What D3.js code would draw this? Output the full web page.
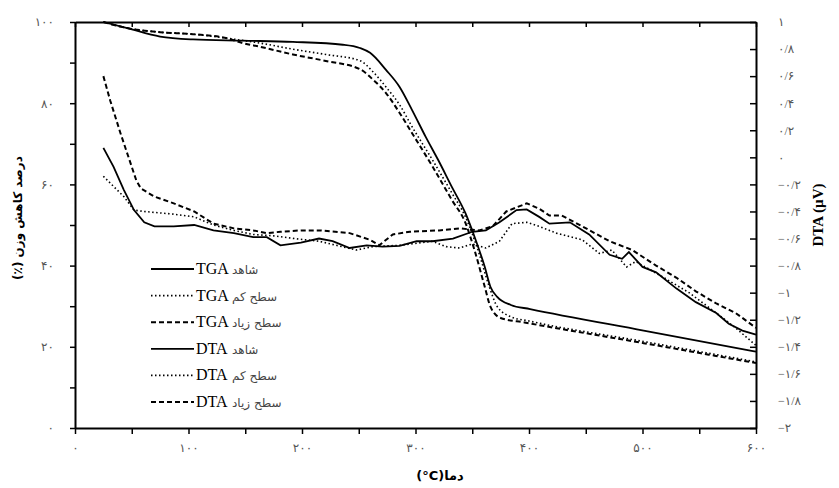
<!DOCTYPE html>
<html>
<head>
<meta charset="utf-8">
<script src="https://cdn.jsdelivr.net/npm/d3@7"></script>
<style>
  body { margin: 0; background: #fff; }
  #graf { width: 839px; height: 488px; }
  text { font-family: 'Liberation Serif', 'Times New Roman', 'DejaVu Sans', serif; }
</style>
</head>
<body>
<div id="graf"></div>
<script>
// temperatures (°C) and TGA weight (%)
const tgaControlT = [25, 46, 75, 104, 148, 192, 236, 251, 260, 274, 286, 297, 309, 320, 332, 344, 352, 361, 366, 372, 384, 401, 501, 600]
const tgaControl = [100, 98.5, 96.4, 95.7, 95.4, 95.1, 94.4, 93.6, 92.4, 88.2, 84, 78.3, 71.7, 66, 59.4, 52.9, 47.1, 39.7, 34.8, 32.3, 30.3, 29.3, 24.0, 18.8]

const tgaLowT = [25, 46, 75, 104, 134, 163, 192, 221, 251, 263, 274, 286, 297, 315, 332, 344, 356, 365, 372, 384, 401, 501, 600]
const tgaLow = [100, 98.5, 97.5, 97, 96, 94.8, 93.3, 92.0, 90.5, 87.6, 84, 79.6, 74.2, 66, 57.9, 52, 43, 34.8, 29.9, 27.4, 26.3, 21.3, 16.3]

const tgaHighT = [25, 46, 75, 104, 134, 148, 163, 192, 221, 251, 263, 274, 286, 297, 315, 332, 344, 352, 361, 366, 375, 396, 501, 600]
const tgaHigh = [100, 98.5, 97.5, 97, 96, 94.8, 93.9, 92.0, 90.4, 88.4, 85.7, 82.5, 77.6, 72.6, 64.4, 56.2, 50.5, 43.8, 34.8, 29.9, 27.1, 26.0, 20.9, 16]

// DTA (µV)
const dtaControlT = [25, 34, 43, 52, 61, 70, 87, 105, 122, 140, 157, 169, 181, 199, 215, 227, 242, 257, 271, 286, 301, 315, 333, 350, 362, 374, 389, 398, 409, 418, 436, 453, 471, 482, 488, 500, 512, 530, 547, 565, 576, 588, 600]
const dtaControl = [0.07, -0.07, -0.24, -0.39, -0.48, -0.51, -0.51, -0.50, -0.54, -0.56, -0.59, -0.59, -0.65, -0.63, -0.60, -0.62, -0.67, -0.65, -0.66, -0.655, -0.62, -0.62, -0.60, -0.55, -0.54, -0.48, -0.39, -0.385, -0.44, -0.49, -0.48, -0.57, -0.72, -0.75, -0.70, -0.81, -0.85, -0.97, -1.07, -1.15, -1.23, -1.28, -1.31]

const dtaLowT = [25, 43, 52, 61, 87, 105, 122, 140, 157, 175, 193, 215, 248, 262, 286, 315, 327, 339, 350, 362, 374, 385, 398, 409, 424, 447, 462, 473, 486, 494, 517, 541, 565, 582, 600]
const dtaLow = [-0.14, -0.29, -0.39, -0.40, -0.42, -0.44, -0.50, -0.54, -0.57, -0.58, -0.60, -0.62, -0.685, -0.66, -0.65, -0.62, -0.66, -0.67, -0.64, -0.67, -0.62, -0.49, -0.48, -0.51, -0.56, -0.61, -0.71, -0.685, -0.81, -0.77, -0.88, -1.0, -1.15, -1.26, -1.39]

const dtaHighT = [25, 31, 40, 48, 54, 58, 70, 87, 105, 122, 140, 157, 169, 181, 199, 216, 242, 260, 268, 280, 295, 321, 339, 356, 368, 380, 398, 409, 418, 429, 447, 471, 491, 512, 530, 547, 565, 582, 600]
const dtaHigh = [0.60, 0.42, 0.18, -0.02, -0.17, -0.23, -0.29, -0.34, -0.40, -0.49, -0.525, -0.54, -0.56, -0.55, -0.54, -0.54, -0.56, -0.61, -0.65, -0.57, -0.55, -0.54, -0.525, -0.54, -0.51, -0.40, -0.34, -0.38, -0.43, -0.43, -0.51, -0.62, -0.685, -0.80, -0.89, -0.99, -1.08, -1.15, -1.26]

const levelNames = ['شاهد', 'سطح کم', 'سطح زیاد']
const xTicks = [0, 100, 200, 300, 400, 500, 600]
const leftTicks = [0, 20, 40, 60, 80, 100]
const rightTicks = [1, 0.8, 0.6, 0.4, 0.2, 0, -0.2, -0.4, -0.6, -0.8, -1, -1.2, -1.4, -1.6, -1.8, -2]

const W = 839, H = 488
const svg = d3.select('#graf').append('svg').attr('width', W).attr('height', H)

const x = d3.scaleLinear().domain([0, 600]).range([75, 756])
const yL = d3.scaleLinear().domain([0, 100]).range([428, 22])
const yR = d3.scaleLinear().domain([-2, 1]).range([428, 22])

const fa = s => String(s).replace(/\d/g, d => '۰۱۲۳۴۵۶۷۸۹'[d])
const faDec = v => {
    const r = Math.round(v * 10) / 10
    return fa(String(r).replace('.', '/').replace('-', '−'))
}

// axes
const styleAxis = g => {
    g.select('.domain').attr('stroke', '#000').attr('stroke-width', 2)
    g.selectAll('.tick line').attr('stroke', '#000').attr('stroke-width', 1.5)
    g.selectAll('.tick text').attr('fill', '#555').attr('font-size', 12)
        .style('font-family', "'Liberation Serif', 'DejaVu Sans', serif")
}

svg.append('g').attr('transform', 'translate(0,428)')
    .call(d3.axisBottom(x).tickValues(d3.range(0, 601, 50)).tickSize(6).tickSizeOuter(0).tickPadding(9)
        .tickFormat(d => xTicks.includes(d) ? fa(d) : ''))
    .call(styleAxis)

svg.append('g').attr('transform', 'translate(0,22)')
    .call(d3.axisTop(x).tickValues(d3.range(0, 601, 50)).tickSize(-5).tickSizeOuter(0).tickFormat(''))
    .call(styleAxis)

svg.append('g').attr('transform', 'translate(75,0)')
    .call(d3.axisLeft(yL).tickValues(d3.range(0, 101, 10)).tickSize(5).tickSizeOuter(0).tickPadding(16)
        .tickFormat(d => leftTicks.includes(d) ? fa(d) : ''))
    .call(styleAxis)

svg.append('g').attr('transform', 'translate(756,0)')
    .call(d3.axisRight(yR).tickValues(rightTicks).tickSize(-6).tickSizeOuter(0).tickPadding(22)
        .tickFormat(faDec))
    .call(styleAxis)

// curves
const lineL = d3.line().x(d => x(d[0])).y(d => yL(d[1])).curve(d3.curveMonotoneX)
const lineR = d3.line().x(d => x(d[0])).y(d => yR(d[1])).curve(d3.curveLinear)
const zip = (a, b) => a.map((t, i) => [t, b[i]])

const dashes = [null, '1.5,2.5', '5,3']
const widths = [1.8, 1.6, 2]

const tgaSeries = [zip(tgaControlT, tgaControl), zip(tgaLowT, tgaLow), zip(tgaHighT, tgaHigh)]
const dtaSeries = [zip(dtaControlT, dtaControl), zip(dtaLowT, dtaLow), zip(dtaHighT, dtaHigh)]

dtaSeries.forEach((s, i) => {
    svg.append('path').attr('d', lineR(s)).attr('fill', 'none').attr('stroke', '#000')
        .attr('stroke-width', widths[i]).attr('stroke-dasharray', dashes[i])
})
tgaSeries.forEach((s, i) => {
    svg.append('path').attr('d', lineL(s)).attr('fill', 'none').attr('stroke', '#000')
        .attr('stroke-width', widths[i]).attr('stroke-dasharray', dashes[i])
})

// legend
const legend = ['TGA', 'DTA'].flatMap(k => levelNames.map((n, i) => ({ k, n, i })))
const lg = svg.append('g')
legend.forEach((d, j) => {
    const ly = 269 + j * 26.6
    lg.append('line').attr('x1', 151).attr('x2', 194).attr('y1', ly).attr('y2', ly)
        .attr('stroke', '#000').attr('stroke-width', widths[d.i]).attr('stroke-dasharray', dashes[d.i])
    lg.append('text').attr('x', 196).attr('y', ly + 5).attr('font-size', 16).text(d.k)
    lg.append('text').attr('x', 232).attr('y', ly + 5).attr('font-size', 12).attr('fill', '#444')
        .style('font-family', "'DejaVu Sans', sans-serif").text(d.n)
})

// axis titles
svg.append('text').attr('x', 440).attr('y', 480).attr('text-anchor', 'middle')
    .attr('font-weight', 'bold').attr('font-size', 13)
    .style('font-family', "'DejaVu Sans', sans-serif").text('(°C)دما')

svg.append('text').attr('transform', 'translate(22,218) rotate(-90)').attr('text-anchor', 'middle')
    .attr('direction', 'rtl').attr('font-weight', 'bold').attr('font-size', 12)
    .style('font-family', "'DejaVu Sans', sans-serif").text('درصد کاهش وزن (٪)')

svg.append('text').attr('transform', 'translate(823,215) rotate(-90)').attr('text-anchor', 'middle')
    .attr('font-weight', 'bold').attr('font-size', 15).text('DTA (µV)')
</script>
</body>
</html>
